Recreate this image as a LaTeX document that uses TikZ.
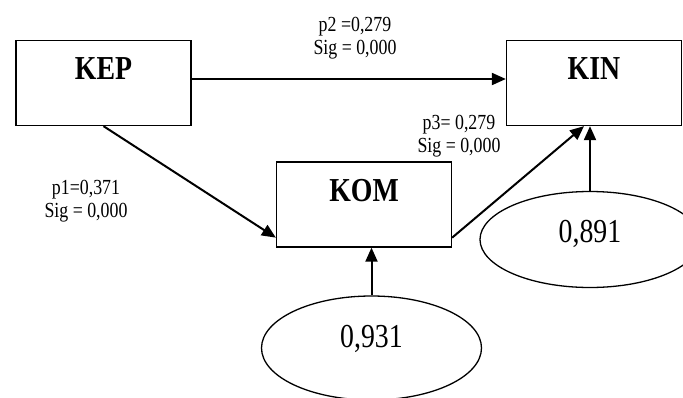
\documentclass[tikz,border=0pt]{standalone}
\usepackage{fontspec}
\setmainfont{Liberation Serif}[FakeStretch=0.83]
\usetikzlibrary{positioning, arrows.meta, shapes, calc}

\begin{document}
\begin{tikzpicture}[
    x=1pt, y=-1pt, % pixel-like units, y pointing down
    varbox/.style={rectangle, draw, line width=1.3pt, minimum width=175pt, minimum height=85pt, inner sep=0pt, font=\fontsize{33.5}{36}\selectfont\bfseries, text depth=29pt},
    residu/.style={ellipse, draw, line width=1.3pt, minimum width=220pt, minimum height=96pt, inner sep=0pt, font=\fontsize{33.5}{36}\selectfont, text depth=17pt},
    coef/.style={align=center, font=\fontsize{21.5}{23}\selectfont},
    pathline/.style={line width=2pt, -{Triangle[length=14pt, width=12pt]}}
]
\useasboundingbox (0,0) rectangle (683,397);
\clip (0,0) rectangle (683,397);

% Variables
\node[varbox] (kep) at (103.5, 83) {KEP};
\node[varbox] (kin) at (594, 83) {KIN};
\node[varbox] (kom) at (364, 204.5) {KOM};

% Residuals
\node[residu, minimum height=104pt, text depth=23pt] (e931) at (371.5, 348) {0,931};
\node[residu] (e891) at (590, 239.5) {0,891};

% Paths
\draw[pathline] ([yshift=4pt]kep.east) -- ([yshift=4pt]kin.west);
\draw[pathline] (kep.south) -- ([yshift=10pt]kom.south west);
\draw[pathline] ([yshift=10pt]kom.south east) -- ([xshift=-10pt]kin.south);
\draw[pathline] (e931.north) -- (e931.north |- kom.south);
\draw[pathline] (e891.north) -- (e891.north |- kin.south);

% Coefficients
\node[coef] (p2) at (355, 38) {p2 =0,279\\Sig = 0,000};
\node[coef] (p3) at (459, 136) {p3= 0,279\\Sig = 0,000};
\node[coef] (p1) at (86, 201) {p1=0,371\\Sig = 0,000};

\end{tikzpicture}
\end{document}
